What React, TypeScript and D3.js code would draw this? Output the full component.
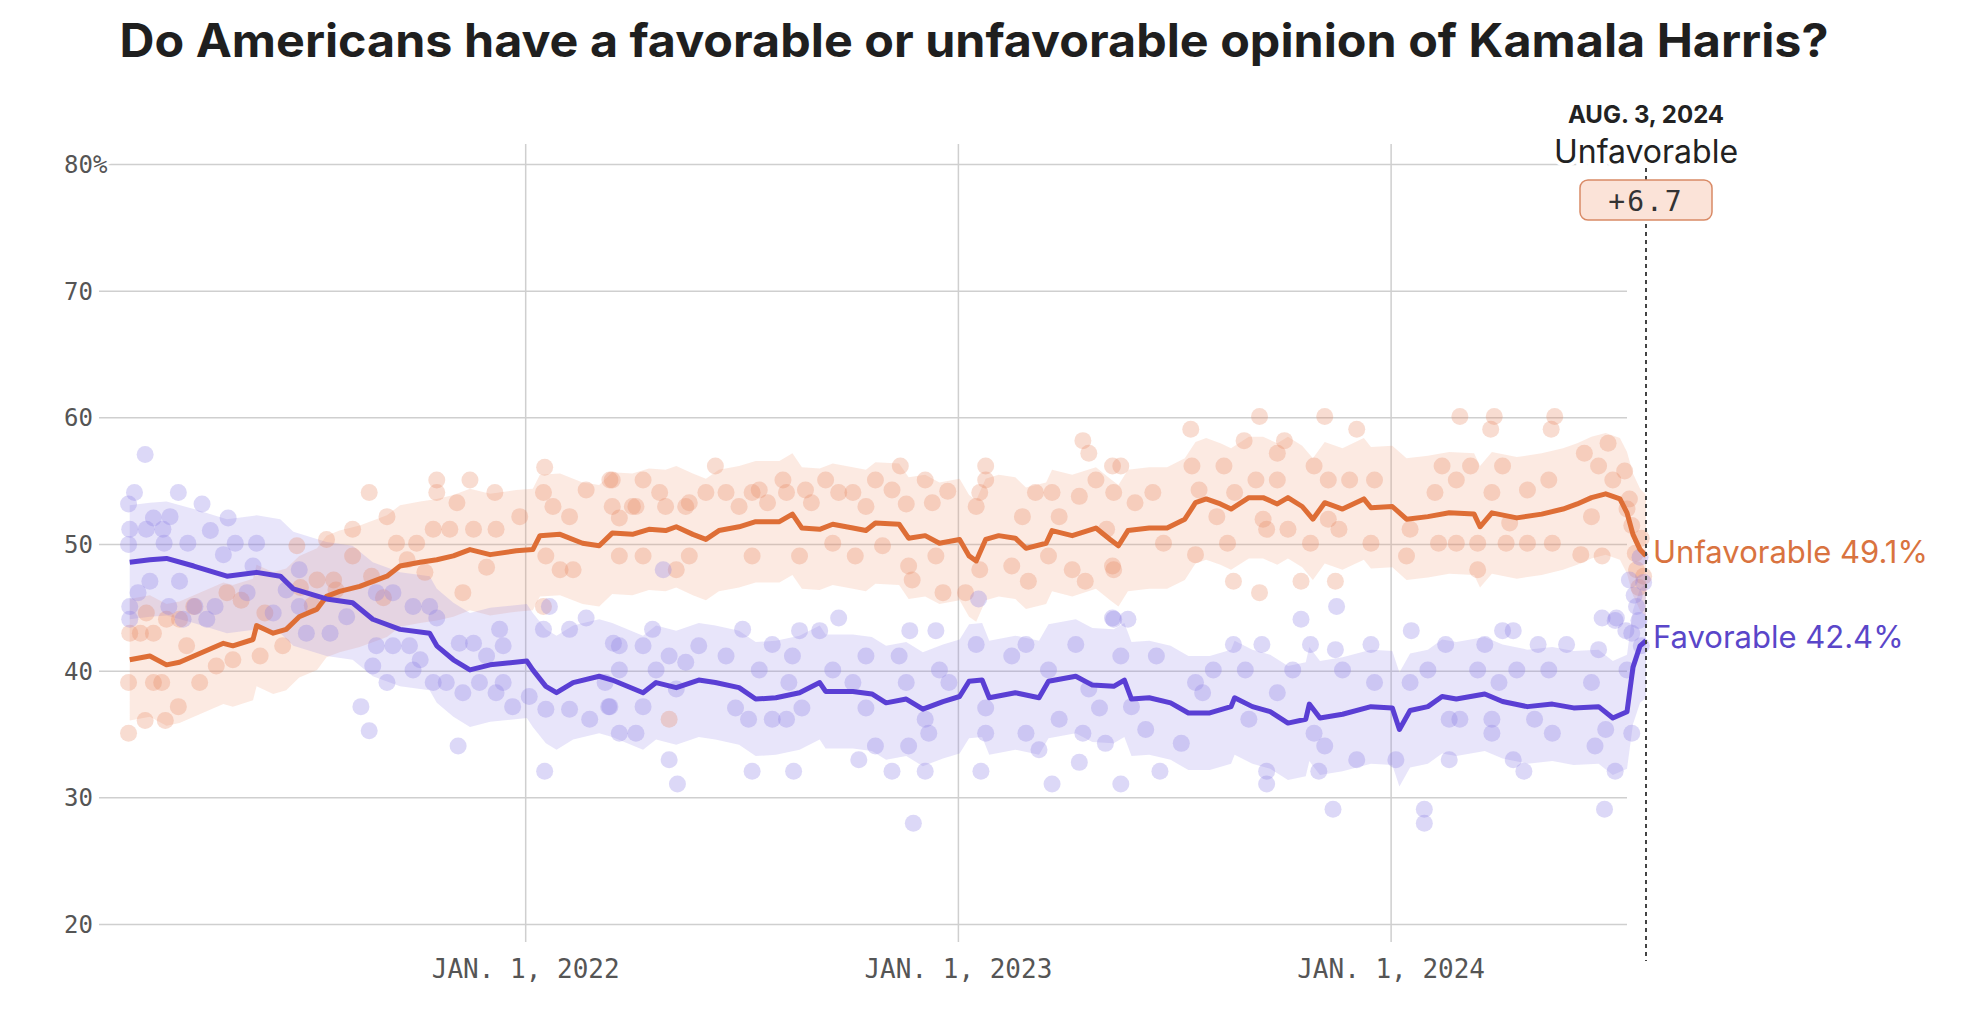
import React from "react";
import * as d3 from "d3";

// ---------- DATA ----------
// All day values are days since Jan. 1, 2022
const DAY0 = "2022-01-01";
const START_DATE = "2021-01-20";
const END_DATE = "2024-08-03";

const titleText = "Do Americans have a favorable or unfavorable opinion of Kamala Harris?";
const yTicks = [20, 30, 40, 50, 60, 70, 80];
const xTickDates = ["2022-01-01", "2023-01-01", "2024-01-01"];
const xTickLabels = ["JAN. 1, 2022", "JAN. 1, 2023", "JAN. 1, 2024"];

const endDateLabel = "AUG. 3, 2024";
const leaderName = "Unfavorable";
const leadMargin = "+6.7";
const favFinal = 42.4;
const unfavFinal = 49.1;
const favBandHalf = 4.5;
const unfavBandHalf = 4.8;

// polling averages [day, value]
const favTrend: [number, number][] = [
  [-334, 48.6], [-317, 48.8], [-303, 48.9], [-280, 48.3], [-252, 47.5], [-227, 47.8],
  [-207, 47.5], [-196, 46.5], [-168, 45.7], [-146, 45.4], [-129, 44.1], [-106, 43.3],
  [-81, 43.0], [-75, 42.0], [-61, 40.9], [-47, 40.1], [-30, 40.5], [1, 40.8], [6, 40.1],
  [17, 38.8], [26, 38.3], [40, 39.1], [62, 39.6], [73, 39.3], [99, 38.3], [110, 39.1],
  [127, 38.7], [146, 39.3], [160, 39.1], [180, 38.7], [194, 37.8], [211, 37.9], [231, 38.3],
  [248, 39.1], [253, 38.4], [276, 38.4], [292, 38.2], [304, 37.5], [321, 37.8], [335, 37.0],
  [352, 37.6], [366, 38.0], [374, 39.2], [385, 39.3], [391, 37.9], [413, 38.3], [433, 37.9],
  [441, 39.2], [464, 39.6], [478, 38.9], [496, 38.8], [505, 39.3], [511, 37.8], [526, 37.9],
  [544, 37.5], [559, 36.7], [577, 36.7], [595, 37.2], [598, 37.9], [613, 37.2], [628, 36.8],
  [643, 35.9], [658, 36.2], [661, 37.4], [670, 36.3], [689, 36.6], [713, 37.2], [731, 37.1],
  [737, 35.4], [746, 36.9], [761, 37.2], [773, 38.0], [785, 37.8], [809, 38.2], [824, 37.6],
  [845, 37.2], [866, 37.4], [884, 37.1], [905, 37.2], [917, 36.3], [929, 36.8], [934, 40.3],
  [940, 42.0], [945, 42.4],
];

const unfavTrend: [number, number][] = [
  [-334, 40.9], [-317, 41.2], [-303, 40.5], [-292, 40.7], [-275, 41.4], [-255, 42.2],
  [-247, 42.0], [-230, 42.5], [-227, 43.6], [-213, 43.0], [-202, 43.3], [-191, 44.3],
  [-176, 44.9], [-168, 45.9], [-157, 46.3], [-140, 46.7], [-117, 47.5], [-106, 48.3],
  [-89, 48.6], [-75, 48.8], [-61, 49.1], [-47, 49.6], [-30, 49.2], [-8, 49.5], [6, 49.6],
  [12, 50.7], [29, 50.8], [48, 50.1], [62, 49.9], [73, 50.9], [90, 50.8], [104, 51.2],
  [118, 51.1], [127, 51.4], [141, 50.8], [152, 50.4], [163, 51.1], [180, 51.4], [194, 51.8],
  [214, 51.8], [225, 52.4], [233, 51.3], [248, 51.2], [259, 51.6], [276, 51.3], [287, 51.1],
  [295, 51.7], [315, 51.6], [323, 50.5], [337, 50.7], [349, 50.1], [366, 50.4], [374, 49.1],
  [380, 48.7], [388, 50.4], [399, 50.7], [413, 50.5], [422, 49.7], [439, 50.1], [444, 51.1],
  [461, 50.7], [481, 51.3], [493, 50.4], [500, 49.9], [508, 51.1], [526, 51.3], [541, 51.3],
  [556, 52.0], [565, 53.3], [574, 53.6], [586, 53.2], [595, 52.8], [610, 53.7], [622, 53.7],
  [634, 53.2], [643, 53.7], [655, 53.0], [664, 52.0], [674, 53.3], [689, 52.8], [707, 53.6],
  [713, 52.9], [731, 53.0], [743, 52.0], [761, 52.2], [779, 52.5], [800, 52.4], [805, 51.4],
  [815, 52.5], [836, 52.1], [857, 52.4], [875, 52.8], [887, 53.2], [899, 53.7], [911, 54.0],
  [923, 53.6], [929, 52.5], [934, 50.8], [940, 49.6], [945, 49.1],
];

// individual polls [day, value]
const favPolls: [number, number][] = [
  [-321, 57.1], [-330, 54.1], [-335, 53.2], [-293, 54.1], [-273, 53.2], [-251, 52.1], [-314, 52.1],
  [-300, 52.2], [-334, 51.2], [-320, 51.2], [-306, 51.2], [-266, 51.1], [-335, 50.0], [-305, 50.1],
  [-285, 50.1], [-245, 50.1], [-227, 50.1], [-255, 49.2], [-317, 47.1], [-292, 47.1], [-327, 46.2],
  [-334, 45.1], [-301, 45.1], [-279, 45.1], [-262, 45.1], [-334, 44.1], [-289, 44.1], [-269, 44.1],
  [-235, 46.2], [-230, 48.3], [-191, 48.0], [-191, 45.1], [-202, 46.4], [-213, 44.6], [-185, 43.0],
  [-165, 43.0], [-151, 44.3], [-126, 46.2], [-112, 46.2], [-95, 45.1], [-81, 45.1], [-75, 44.2],
  [-126, 42.0], [-112, 42.0], [-98, 42.0], [-89, 40.9], [-56, 42.2], [-44, 42.2], [-22, 43.3],
  [-19, 42.0], [-33, 41.2], [-129, 40.4], [-117, 39.1], [-95, 40.1], [-78, 39.1], [-67, 39.1],
  [-53, 38.3], [-39, 39.1], [-25, 38.3], [-11, 37.2], [3, 38.0], [17, 37.0], [37, 37.0], [54, 36.2],
  [71, 37.2], [15, 43.3], [37, 43.3], [51, 44.2], [20, 45.1], [74, 42.2], [-139, 37.2], [-132, 35.3],
  [-57, 34.1], [16, 32.1], [-19, 39.1],
  [264, 44.2], [107, 43.3], [183, 43.3], [231, 43.2], [248, 43.2], [324, 43.2], [346, 43.2], [79, 42.0],
  [99, 42.0], [146, 42.0], [208, 42.1], [380, 42.1], [422, 42.1], [464, 42.1], [495, 44.2], [121, 41.2],
  [169, 41.2], [225, 41.2], [287, 41.2], [410, 41.2], [79, 40.1], [110, 40.1], [135, 40.7], [197, 40.1],
  [259, 40.1], [315, 41.2], [349, 40.1], [441, 40.1], [67, 39.1], [127, 38.6], [222, 39.1], [276, 39.1],
  [321, 39.1], [357, 39.1], [475, 38.6], [70, 37.2], [99, 37.2], [177, 37.1], [233, 37.1], [287, 37.1],
  [388, 37.1], [484, 37.1], [188, 36.2], [208, 36.2], [220, 36.2], [337, 36.2], [450, 36.2], [79, 35.1],
  [93, 35.1], [340, 35.1], [388, 35.1], [422, 35.1], [470, 35.1], [295, 34.1], [323, 34.1], [433, 33.8],
  [489, 34.3], [121, 33.0], [281, 33.0], [467, 32.8], [191, 32.1], [226, 32.1], [309, 32.1], [337, 32.1],
  [384, 32.1], [128, 31.1], [444, 31.1], [327, 28.0], [116, 48.0], [382, 45.7],
  [684, 45.1], [496, 44.1], [508, 44.1], [654, 44.1], [747, 43.2], [824, 43.2], [833, 43.2], [908, 44.2],
  [920, 44.2], [597, 42.1], [621, 42.1], [662, 42.1], [683, 41.7], [713, 42.1], [776, 42.1], [809, 42.1],
  [854, 42.1], [878, 42.1], [905, 41.7], [502, 41.2], [532, 41.2], [580, 40.1], [607, 40.1], [647, 40.1],
  [689, 40.1], [761, 40.1], [803, 40.1], [836, 40.1], [863, 40.1], [899, 39.1], [929, 40.1], [565, 39.1],
  [571, 38.3], [634, 38.3], [716, 39.1], [746, 39.1], [821, 39.1], [511, 37.2], [523, 35.4], [665, 35.1],
  [553, 34.3], [610, 36.2], [779, 36.2], [788, 36.2], [815, 36.2], [851, 36.2], [911, 35.4], [933, 35.1],
  [866, 35.1], [815, 35.1], [674, 34.1], [701, 33.0], [734, 33.0], [779, 33.0], [833, 33.0], [902, 34.1],
  [535, 32.1], [625, 32.1], [669, 32.1], [842, 32.1], [919, 32.1], [502, 31.1], [625, 31.1], [681, 29.1],
  [758, 29.1], [758, 28.0], [910, 29.1],
  [931, 47.2], [935, 46.0], [937, 45.1], [933, 43.0], [939, 44.0], [941, 42.0], [943, 47.0], [940, 49.0],
  [919, 44.0], [928, 43.2],
];

const unfavPolls: [number, number][] = [
  [-335, 35.1], [-321, 36.1], [-304, 36.1], [-293, 37.2], [-335, 39.1], [-314, 39.1], [-307, 39.1],
  [-275, 39.1], [-286, 42.0], [-247, 40.9], [-261, 40.4], [-325, 43.0], [-334, 43.0], [-314, 43.0],
  [-303, 44.1], [-292, 44.1], [-252, 46.2], [-224, 41.2], [-205, 42.0], [-193, 49.9], [-168, 50.4],
  [-146, 51.2], [-132, 54.1], [-117, 52.2], [-75, 55.1], [-75, 54.1], [-47, 55.1], [-26, 54.1],
  [-58, 53.3], [16, 56.1], [15, 54.1], [71, 55.1], [51, 54.3], [23, 53.0], [37, 52.2], [-78, 51.2],
  [-64, 51.2], [-44, 51.2], [-25, 51.2], [-5, 52.2], [-109, 50.1], [-92, 50.1], [-146, 49.1],
  [-162, 47.2], [-176, 47.2], [-33, 48.2], [29, 48.0], [40, 48.0], [-53, 46.2], [17, 49.1], [15, 45.1],
  [-320, 44.6], [-280, 45.1], [-240, 45.6], [-220, 44.6], [-190, 46.6], [-180, 45.2], [-160, 46.4],
  [-130, 47.5], [-100, 48.8], [-85, 47.8], [-120, 45.8],
  [73, 55.1], [99, 55.1], [160, 56.2], [79, 52.1], [90, 53.0], [113, 54.1], [118, 53.0], [138, 53.3],
  [152, 54.1], [169, 54.1], [191, 54.1], [197, 54.3], [217, 55.1], [220, 54.1], [236, 54.3], [253, 55.1],
  [264, 54.1], [276, 54.1], [295, 55.1], [309, 54.3], [316, 56.2], [337, 55.1], [356, 54.2], [388, 56.2],
  [388, 55.1], [383, 54.1], [430, 54.1], [444, 54.1], [467, 53.8], [470, 58.2], [475, 57.2], [481, 55.1],
  [495, 56.2], [73, 53.0], [93, 53.0], [135, 53.0], [180, 53.0], [204, 53.3], [241, 53.3], [287, 53.0],
  [321, 53.2], [343, 53.3], [380, 53.0], [419, 52.2], [450, 52.2], [79, 49.1], [99, 49.1], [127, 48.0],
  [138, 49.1], [191, 49.1], [231, 49.1], [259, 50.1], [278, 49.1], [301, 49.9], [323, 48.3], [326, 47.2],
  [346, 49.1], [352, 46.2], [371, 46.2], [383, 48.0], [410, 48.3], [424, 47.1], [441, 49.1], [461, 48.0],
  [472, 47.1], [495, 48.3], [121, 36.2],
  [619, 60.1], [674, 60.1], [788, 60.1], [817, 60.1], [868, 60.1], [561, 59.1], [701, 59.1], [814, 59.1],
  [865, 59.1], [606, 58.2], [640, 58.2], [913, 58.0], [502, 56.2], [589, 56.2], [634, 57.2], [665, 56.2],
  [773, 56.2], [797, 56.2], [824, 56.2], [893, 57.2], [905, 56.2], [562, 56.2], [529, 54.1], [568, 54.3],
  [598, 54.1], [616, 55.1], [634, 55.1], [677, 55.1], [695, 55.1], [716, 55.1], [767, 54.1], [785, 55.1],
  [815, 54.1], [845, 54.3], [863, 55.1], [917, 55.1], [496, 54.1], [514, 53.3], [583, 52.2], [622, 52.0],
  [677, 52.0], [830, 51.7], [899, 52.2], [929, 52.8], [490, 51.2], [538, 50.1], [565, 49.2], [592, 50.1],
  [625, 51.2], [643, 51.2], [662, 50.1], [686, 51.2], [713, 50.1], [746, 51.2], [770, 50.1], [785, 50.1],
  [803, 50.1], [827, 50.1], [845, 50.1], [866, 50.1], [890, 49.2], [908, 49.1], [743, 49.1], [496, 48.0],
  [803, 48.0], [597, 47.1], [654, 47.1], [683, 47.1], [619, 46.2],
  [933, 51.5], [936, 49.3], [937, 48.0], [939, 46.6], [941, 50.5], [943, 47.5], [927, 55.8], [931, 53.6],
];

// ---------- STYLE ----------
const ORANGE = "#de6e36";
const PURPLE = "#5a3fd4";
const ORANGE_TEXT = "#d9733f";
const PURPLE_TEXT = "#5a46c9";
const MONO = "'DejaVu Sans Mono', monospace";
const SANS = "Inter, 'Noto Sans', sans-serif";

export default function App() {
  const W = 1963;
  const H = 1020;
  const parse = d3.timeParse("%Y-%m-%d");
  const day0 = parse(DAY0) as Date;
  const toDate = (d: number) => d3.timeDay.offset(day0, d);
  const startDate = parse(START_DATE) as Date;
  const endDate = parse(END_DATE) as Date;

  const x = d3.scaleTime().domain([startDate, endDate]).range([115.5, 1646]);
  const y = d3.scaleLinear().domain([20, 80]).range([924.5, 164.5]);

  const gridLeft = 99;
  const gridRight = 1627;
  const endX = x(endDate);

  const line = d3
    .line<[number, number]>()
    .x((d) => x(toDate(d[0])))
    .y((d) => y(d[1]))
    .curve(d3.curveLinear);

  const band = (half: number) =>
    d3
      .area<[number, number]>()
      .x((d) => x(toDate(d[0])))
      .y0((d) => y(d[1] - half))
      .y1((d) => y(d[1] + half))
      .curve(d3.curveLinear);

  return (
    <svg
      width={W}
      height={H}
      viewBox={`0 0 ${W} ${H}`}
      style={{ position: "absolute", left: 0, top: 0, background: "#fff" }}
    >
      <rect x={0} y={0} width={W} height={H} fill="#fff" />
      <text
        x={974}
        y={57}
        textAnchor="middle"
        fontFamily={SANS}
        fontWeight={700}
        fontSize={46}
        textLength={1709}
        lengthAdjust="spacingAndGlyphs"
        fill="#1f1f1f"
      >
        {titleText}
      </text>

      {/* horizontal gridlines */}
      {yTicks.map((t) => (
        <line
          key={"h" + t}
          x1={gridLeft}
          x2={gridRight}
          y1={y(t)}
          y2={y(t)}
          stroke="#cfcfcf"
          strokeWidth={1.5}
        />
      ))}
      {/* vertical gridlines */}
      {xTickDates.map((d) => {
        const xx = x(parse(d) as Date);
        return (
          <line key={"v" + d} x1={xx} x2={xx} y1={144} y2={942} stroke="#cfcfcf" strokeWidth={1.5} />
        );
      })}

      {/* bands */}
      <path d={band(unfavBandHalf)(unfavTrend) || ""} fill="#f0966e" fillOpacity={0.2} />
      <path d={band(favBandHalf)(favTrend) || ""} fill="#8c7de6" fillOpacity={0.2} />

      {/* polls */}
      {unfavPolls.map((p, i) => (
        <circle
          key={"u" + i}
          cx={x(toDate(p[0]))}
          cy={y(p[1])}
          r={8.5}
          fill="#e6825a"
          fillOpacity={0.28}
        />
      ))}
      {favPolls.map((p, i) => (
        <circle
          key={"f" + i}
          cx={x(toDate(p[0]))}
          cy={y(p[1])}
          r={8.5}
          fill="#8c7de6"
          fillOpacity={0.3}
        />
      ))}

      {/* trend lines */}
      <path d={line(unfavTrend) || ""} fill="none" stroke={ORANGE} strokeWidth={5} strokeLinejoin="round" />
      <path d={line(favTrend) || ""} fill="none" stroke={PURPLE} strokeWidth={5} strokeLinejoin="round" />

      {/* y labels */}
      {yTicks.map((t) => (
        <text
          key={"yl" + t}
          x={64}
          y={y(t)}
          dy="0.36em"
          fontFamily={MONO}
          fontSize={24}
          fill="#555"
          stroke="#fff"
          strokeWidth={6}
          paintOrder="stroke"
        >
          {t === 80 ? "80%" : String(t)}
        </text>
      ))}

      {/* x labels */}
      {xTickDates.map((d, i) => (
        <text
          key={"xl" + d}
          x={x(parse(d) as Date)}
          y={978}
          textAnchor="middle"
          fontFamily={MONO}
          fontSize={26}
          fill="#555"
        >
          {xTickLabels[i]}
        </text>
      ))}

      {/* end marker */}
      <line
        x1={endX}
        x2={endX}
        y1={168}
        y2={961}
        stroke="#444"
        strokeWidth={2}
        strokeDasharray="4,4"
      />
      <text x={endX} y={123} textAnchor="middle" fontFamily={SANS} fontWeight={700} fontSize={24} fill="#222">
        {endDateLabel}
      </text>
      <text
        x={endX}
        y={163}
        textAnchor="middle"
        fontFamily={SANS}
        fontSize={32}
        fill="#222"
        stroke="#fff"
        strokeWidth={8}
        paintOrder="stroke"
      >
        {leaderName}
      </text>
      <rect x={endX - 66} y={180} width={132} height={40} rx={8} fill="#fbe3d8" stroke="#d98a66" strokeWidth={1.5} />
      <text x={endX} y={211} textAnchor="middle" fontFamily={MONO} fontSize={28} letterSpacing={2} fill="#333">
        {leadMargin}
      </text>

      {/* end labels */}
      <text x={endX + 7} y={y(unfavFinal) + 7} fontFamily={SANS} fontSize={31} fill={ORANGE_TEXT}>
        {`Unfavorable ${unfavFinal}%`}
      </text>
      <text x={endX + 7} y={y(favFinal) + 7} fontFamily={SANS} fontSize={31} fill={PURPLE_TEXT}>
        {`Favorable ${favFinal}%`}
      </text>
    </svg>
  );
}
